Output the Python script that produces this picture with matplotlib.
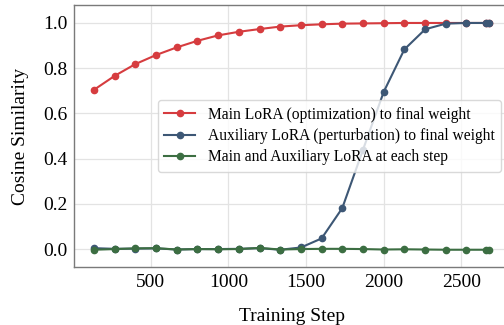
import matplotlib
matplotlib.use("Agg")
import matplotlib.pyplot as plt

# training steps (evaluated every ~133 steps, plus the final ones)
steps = [133, 267, 400, 533, 667, 800, 933, 1067, 1200, 1333, 1467,
         1600, 1733, 1867, 2000, 2133, 2267, 2400, 2533, 2660, 2680]

main_to_final = [0.704, 0.766, 0.818, 0.858, 0.892, 0.921, 0.945, 0.961,
                 0.973, 0.984, 0.990, 0.994, 0.997, 0.998, 0.999, 1.0,
                 1.0, 1.0, 1.0, 1.0, 1.0]
aux_to_final = [0.004, 0.001, 0.002, 0.003, -0.002, 0.0, 0.0, 0.001,
                0.004, -0.003, 0.007, 0.047, 0.181, 0.44, 0.695, 0.883,
                0.972, 0.997, 1.0, 1.0, 1.0]
main_vs_aux = [-0.003, 0.0, 0.003, 0.004, -0.002, 0.0, -0.001, 0.0,
               0.005, -0.002, 0.0, 0.001, 0.001, 0.0, -0.002, -0.001,
               -0.002, -0.003, -0.003, -0.003, -0.003]

labels = ["Main LoRA (optimization) to final weight",
          "Auxiliary LoRA (perturbation) to final weight",
          "Main and Auxiliary LoRA at each step"]
colors = ["#d63c3f", "#3d5775", "#3c6e42"]

plt.rcParams["font.family"] = ["Liberation Serif", "DejaVu Serif"]

fig = plt.figure(figsize=(5.04, 3.25), dpi=100)
ax = fig.add_axes([0.147, 0.178, 0.863, 0.807])

for ys, lab, c in zip([main_to_final, aux_to_final, main_vs_aux], labels, colors):
    ax.plot(steps, ys, marker="o", markersize=4.5, linewidth=1.5,
            color=c, label=lab)

ax.set_ylim(-0.08, 1.08)
ax.set_yticks([0.0, 0.2, 0.4, 0.6, 0.8, 1.0])
ax.set_xticks([500, 1000, 1500, 2000, 2500])
ax.grid(True, color="#e3e3e3", linewidth=0.9)
ax.set_axisbelow(True)
ax.tick_params(length=0, labelsize=14, pad=5)
for s in ax.spines.values():
    s.set_color("#7a7a7a")
    s.set_linewidth(1.0)

ax.set_xlabel("Training Step", fontsize=14, labelpad=12)
ax.set_ylabel("Cosine Similarity", fontsize=14, labelpad=10)

ax.legend(loc="center right", bbox_to_anchor=(0.999, 0.50), fontsize=11.2,
          framealpha=0.8, edgecolor="#d0d0d0", borderpad=0.4,
          labelspacing=0.35, fancybox=True)

fig.savefig("out.png", dpi=100)
